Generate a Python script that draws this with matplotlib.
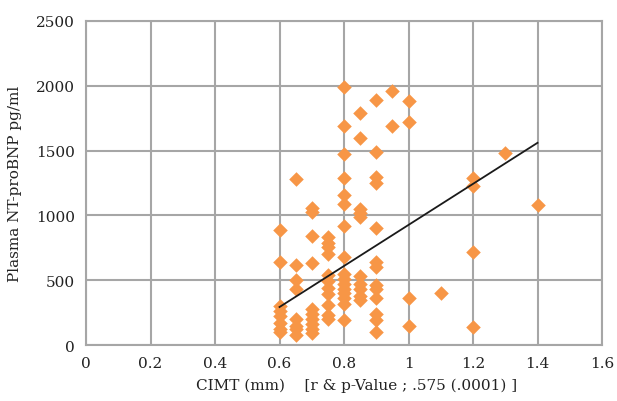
import matplotlib
matplotlib.use('Agg')
import matplotlib.pyplot as plt

# CIMT (mm) of each patient and plasma NT-proBNP (pg/ml)
cimt = [0.6, 0.6, 0.6, 0.6, 0.6, 0.6, 0.6, 0.6,
        0.65, 0.65, 0.65, 0.65, 0.65, 0.65, 0.65, 0.65,
        0.7, 0.7, 0.7, 0.7, 0.7, 0.7, 0.7, 0.7, 0.7, 0.7,
        0.75, 0.75, 0.75, 0.75, 0.75, 0.75, 0.75, 0.75, 0.75, 0.75, 0.75,
        0.8, 0.8, 0.8, 0.8, 0.8, 0.8, 0.8, 0.8, 0.8, 0.8, 0.8, 0.8, 0.8, 0.8, 0.8, 0.8,
        0.85, 0.85, 0.85, 0.85, 0.85, 0.85, 0.85, 0.85, 0.85, 0.85,
        0.9, 0.9, 0.9, 0.9, 0.9, 0.9, 0.9, 0.9, 0.9, 0.9, 0.9, 0.9, 0.9,
        0.95, 0.95,
        1.0, 1.0, 1.0, 1.0,
        1.1,
        1.2, 1.2, 1.2, 1.2,
        1.3,
        1.4]
ntprobnp = [890, 640, 300, 260, 220, 170, 120, 100,
            1280, 615, 500, 435, 200, 150, 120, 80,
            1060, 1030, 840, 630, 280, 240, 200, 160, 120, 90,
            830, 790, 760, 700, 540, 490, 440, 390, 310, 230, 200,
            1990, 1690, 1470, 1290, 1160, 1090, 920, 680, 550, 510, 470, 430, 400, 360, 320, 190,
            1790, 1600, 1050, 1020, 990, 530, 470, 430, 380, 350,
            1890, 1490, 1300, 1250, 900, 640, 600, 460, 430, 360, 240, 190, 100,
            1960, 1690,
            1880, 1720, 360, 150,
            400,
            1290, 1230, 720, 140,
            1480,
            1080]

# linear trend line (end points)
trend_x = [0.6, 1.4]
trend_y = [293, 1560]

plt.rcParams['font.family'] = 'DejaVu Serif'

fig = plt.figure(figsize=(6.17, 4.02), dpi=100)
ax = fig.add_axes([0.1394, 0.1393, 0.8363, 0.806])

ax.scatter(cimt, ntprobnp, marker='D', s=55, color='#F79646', linewidths=0, zorder=3)
ax.plot(trend_x, trend_y, color='#1a1a1a', linewidth=1.3, zorder=4)

ax.set_xlim(0, 1.6)
ax.set_ylim(0, 2500)
ax.set_xticks([0, 0.2, 0.4, 0.6, 0.8, 1.0, 1.2, 1.4, 1.6])
ax.set_xticklabels(['0', '0.2', '0.4', '0.6', '0.8', '1', '1.2', '1.4', '1.6'])
ax.set_yticks([0, 500, 1000, 1500, 2000, 2500])
ax.grid(True, color='#a6a6a6', linewidth=1.5, zorder=0)
ax.set_axisbelow(True)
for s in ax.spines.values():
    s.set_color('#a6a6a6')
    s.set_linewidth(1.5)
ax.tick_params(length=0, labelsize=11, colors='#222222', pad=8)

ax.set_xlabel('CIMT (mm)    [r & p-Value ; .575 (.0001) ]', fontsize=11, color='#222222', labelpad=5)
ax.xaxis.set_label_coords(0.525, -0.1)
ax.set_ylabel('Plasma NT-proBNP pg/ml', fontsize=11, color='#222222', labelpad=10)

plt.savefig('out.png', dpi=100)
plt.close()
